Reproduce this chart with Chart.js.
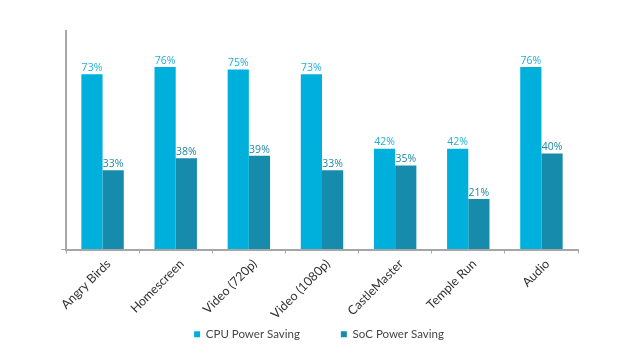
<!DOCTYPE html>
<html>
<head>
<meta charset="utf-8">
<script src="https://cdn.jsdelivr.net/npm/chart.js@4/dist/chart.umd.min.js"></script>
<style>
  html, body { margin: 0; padding: 0; background: #fff; }
  #wrap { width: 640px; height: 361px; position: relative; }
</style>
</head>
<body>
<div id="wrap"><canvas id="c" width="640" height="361"></canvas></div>
<script>
const categories = ['Angry Birds', 'Homescreen', 'Video (720p)', 'Video (1080p)', 'CastleMaster', 'Temple Run', 'Audio'];
const cpuSaving = [73, 76, 75, 73, 42, 42, 76];
const socSaving = [33, 38, 39, 33, 35, 21, 40];
const seriesNames = ['CPU Power Saving', 'SoC Power Saving'];

const CPU_COLOR = '#00b0dc';
const SOC_COLOR = '#168bab';
const CPU_LABEL = '#1fb0d8';
const SOC_LABEL = '#1f88a6';

const valueLabels = {
  id: 'valueLabels',
  afterDatasetsDraw(chart) {
    const ctx = chart.ctx;
    ctx.save();
    ctx.font = '10.5px "Open Sans", "DejaVu Sans", sans-serif';
    ctx.textAlign = 'center';
    ctx.textBaseline = 'bottom';
    chart.data.datasets.forEach((ds, i) => {
      const meta = chart.getDatasetMeta(i);
      ctx.fillStyle = i === 0 ? CPU_LABEL : SOC_LABEL;
      meta.data.forEach((bar, j) => {
        ctx.fillText(ds.data[j] + '%', bar.x, bar.y - 1);
      });
    });
    ctx.restore();
  }
};

new Chart(document.getElementById('c'), {
  type: 'bar',
  data: {
    labels: categories,
    datasets: [
      { label: seriesNames[0], data: cpuSaving, backgroundColor: CPU_COLOR, borderWidth: 0 },
      { label: seriesNames[1], data: socSaving, backgroundColor: SOC_COLOR, borderWidth: 0 }
    ]
  },
  options: {
    responsive: false,
    animation: false,
    events: [],
    layout: { padding: { left: 60, right: 62, top: 31, bottom: 11 } },
    datasets: { bar: { categoryPercentage: 0.58, barPercentage: 1.0 } },
    plugins: {
      tooltip: { enabled: false },
      legend: {
        position: 'bottom',
        labels: {
          boxWidth: 6, boxHeight: 6, padding: 41,
          color: '#444',
          font: { family: 'Lato, "Open Sans", sans-serif', size: 11.5 }
        }
      }
    },
    scales: {
      x: {
        grid: { display: true, drawOnChartArea: false, drawTicks: true, tickLength: 4, color: '#a6a6a6', offset: true },
        border: { display: true, color: '#a6a6a6', width: 2 },
        ticks: {
          color: '#333', maxRotation: 45, minRotation: 45, padding: 3, labelOffset: 6,
          font: { family: 'Lato, "Open Sans", sans-serif', size: 12.5 }
        },
        afterFit(s) { s.height = 38; s._computeLabelArea = () => undefined; }
      },
      y: {
        min: 0, max: 91,
        grid: { display: true, drawOnChartArea: false, drawTicks: true, tickLength: 5, color: '#a6a6a6' },
        border: { display: true, color: '#a6a6a6', width: 2 },
        ticks: { display: false },
        afterBuildTicks(s) { s.ticks = [{ value: 0 }]; },
        afterFit(s) { s.width = 6; }
      }
    }
  },
  plugins: [valueLabels]
});
</script>
</body>
</html>
